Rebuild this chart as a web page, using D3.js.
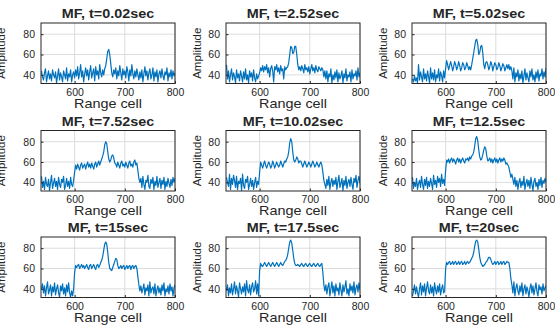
<!DOCTYPE html>
<html><head><meta charset="utf-8">
<script src="https://cdn.jsdelivr.net/npm/d3@7"></script>
<style>
html,body{margin:0;padding:0;background:#fff;overflow:hidden;}
svg{display:block;}
text{font-family:"Liberation Sans",Arial,Helvetica,sans-serif;fill:#262626;}
</style></head>
<body>
<svg id="chart" width="555" height="325"></svg>
<script>
// ---------- data ----------
const titles = ["MF, t=0.02sec","MF, t=2.52sec","MF, t=5.02sec","MF, t=7.52sec","MF, t=10.02sec","MF, t=12.5sec","MF, t=15sec","MF, t=17.5sec","MF, t=20sec"];
const xTicks = [600, 700, 800];
const yTicks = [40, 60, 80];
const cells = d3.range(534, 801, 2); // range cell index, 534..800

const p1 = [44,38,35,42,46,33,39,44,36,41,34,45,40,37,43,32,39,46,35,42,38,33,44,40,36,47,34,41,38,45,33,40,43,
 37,
 45,39,48,36,42,50,38,44,33,41,47,39,45,35,43,49,37,42,46,34,48,40,44,36,50,42,38,
 45,40,46,49,56,63,65,60,51,42,38,45,41,
 47,36,44,39,49,42,35,46,40,44,37,48,43,34,45,39,50,41,36,44,38,46,
 40,35,43,
 37,45,33,41,48,39,44,35,42,46,36,40,47,34,43,38,45,33,41,44,37,46,39,35,43,40,47,34,42,38,45,36,44,39,42];
const p2 = [50,36,44,33,40,46,35,42,38,32,45,37,41,34,44,39,33,43,36,46,35,40,32,44,38,42,34,45,37,33,41,36,39,
 42,
 47,44,49,43,48,45,50,42,47,38,46,49,44,33,48,45,50,43,47,41,49,44,46,36,48,45,47,
 48,52,60,68,67,61,62,68,68,60,50,45,48,
 44,49,46,42,50,45,47,43,48,41,46,50,44,47,42,49,45,43,48,46,44,47,
 45,38,44,
 36,44,33,41,38,46,32,40,35,43,37,45,33,42,36,39,44,32,41,37,46,34,40,38,43,33,45,36,41,39,44,35,47,38,42];
const p3 = [36,33,39,34,37,32,50,35,43,38,33,46,36,41,34,44,38,32,47,36,42,35,45,33,40,37,46,34,43,39,33,44,37,
 46,
 54,50,45,49,53,49,44,48,53,50,45,48,53,49,44,47,52,50,45,47,52,49,45,48,45,50,56,
 62,68,74,75,70,60,62,68,69,62,50,46,52,
 53,50,45,48,53,50,44,48,52,50,45,47,52,49,44,47,51,49,44,47,50,46,
 50,45,48,
 44,36,47,33,42,38,45,34,41,36,44,32,39,46,35,42,37,33,44,38,46,35,40,33,43,37,45,34,41,39,46,36,43,38,47];
const p4 = [46,35,41,33,45,38,36,43,32,40,47,34,39,44,36,41,33,45,38,35,43,40,46,33,37,44,36,41,34,45,38,36,42,
 50,
 57,53,58,55,52,57,59,54,56,58,53,57,60,55,58,54,59,56,53,58,60,55,58,61,57,60,63,
 66,70,77,80,78,70,63,60,62,66,67,64,59,
 58,55,60,57,54,59,61,56,58,55,60,57,54,59,61,56,58,55,60,62,57,59,
 52,44,40,
 44,35,46,38,33,42,40,47,36,34,43,39,45,33,41,37,46,35,40,44,34,42,38,45,33,41,36,44,39,35,43,37,45,40,44];
const p5 = [45,40,36,48,33,44,38,47,42,35,46,33,41,39,44,32,48,37,34,43,40,46,33,38,44,36,42,33,40,45,35,41,38,
 50,
 60,57,54,58,61,57,54,57,60,58,54,56,61,58,54,57,60,57,55,57,61,58,55,58,61,60,63,
 65,70,79,83,80,70,62,60,62,65,63,59,61,
 61,58,55,58,61,58,55,57,60,58,55,58,61,58,55,57,60,57,55,58,60,57,
 50,42,38,
 34,43,37,46,33,40,44,36,42,38,45,33,41,47,35,39,44,32,42,37,46,34,40,43,36,45,38,33,44,40,47,35,42,46,39];
const p6 = [45,34,40,36,44,33,39,42,35,46,38,33,43,37,45,34,41,36,44,39,33,47,38,42,35,46,40,44,36,48,39,43,37,
 52,
 62,60,63,59,62,64,60,63,61,58,62,64,60,63,59,62,64,61,59,63,62,64,61,65,63,66,67,
 70,76,83,85,81,72,65,62,63,67,72,75,73,
 66,61,62,64,60,63,59,62,64,60,63,59,62,64,60,63,61,64,62,58,59,57,
 55,50,45,
 48,43,38,45,36,42,33,40,44,35,41,37,46,33,39,43,36,42,34,45,38,32,41,44,36,40,33,43,37,45,35,42,39,44,40];
const p7 = [40,45,36,43,33,41,47,35,39,44,33,42,37,46,34,40,44,36,32,43,38,45,35,41,33,44,37,46,36,32,38,33,40,
 56,
 63,61,63,64,60,62,64,61,63,60,62,64,61,59,63,64,60,62,64,61,59,63,64,61,63,66,68,
 72,78,84,86,84,76,66,60,59,58,61,64,67,
 70,69,63,60,61,63,60,62,63,59,61,63,60,62,63,59,62,63,60,62,63,60,
 52,44,38,
 43,36,40,45,34,41,38,44,33,47,36,40,42,35,45,33,39,43,36,41,34,44,38,46,33,40,37,43,35,45,38,42,33,41,44];
const p8 = [38,44,33,41,36,45,34,40,47,35,43,38,32,46,40,35,42,37,45,33,48,39,36,44,34,42,46,37,40,48,35,45,33,
 58,
 65,63,62,64,66,64,62,64,66,64,62,64,66,64,62,64,66,64,62,64,66,64,63,65,67,68,70,
 74,80,86,88,85,78,70,65,63,63,64,63,62,
 64,65,63,62,64,65,63,62,64,65,63,62,64,65,63,62,64,65,63,62,64,65,
 56,44,38,
 44,35,42,46,33,40,47,36,43,33,45,38,41,34,46,39,33,44,37,42,48,35,40,33,45,38,43,36,47,34,41,44,37,46,39];
const p9 = [33,38,44,35,42,36,32,40,46,34,43,37,45,33,41,47,38,35,44,36,42,33,46,39,35,43,37,45,34,40,44,36,38,
 60,
 66,64,66,67,64,65,67,64,66,67,64,65,67,64,66,67,64,65,67,64,66,67,65,66,68,70,72,
 76,82,87,88,86,79,71,66,64,62,63,64,66,
 67,69,71,71,69,66,64,65,67,64,66,67,64,65,67,64,66,67,64,65,67,66,
 66,60,50,
 44,36,47,33,41,45,38,34,43,37,46,33,40,44,35,42,38,32,41,45,36,43,34,40,46,37,33,44,39,42,35,45,38,41,43];
const series = [p1,p2,p3,p4,p5,p6,p7,p8,p9];

// ---------- layout ----------
const colLeft = [41, 226, 412];
const rowTop = [23, 130.5, 237];
const W = 134, H = 60.5;
const ylabOffset = [-36, -25, -25];

const svg = d3.select("#chart");
const x = d3.scaleLinear().domain([533, 800]).range([0, W]);
const y = d3.scaleLinear().domain([31.5, 91]).range([H, 0]);
const line = d3.line().x((d,i)=>x(cells[i])).y(d=>y(d));

series.forEach((vals, k) => {
  const r = Math.floor(k/3), c = k%3;
  const g = svg.append("g").attr("transform", `translate(${colLeft[c]},${rowTop[r]})`);
  const cid = "clip"+k;
  g.append("clipPath").attr("id", cid).append("rect").attr("width", W).attr("height", H);
  // grid
  g.append("g").selectAll("line").data(xTicks).join("line")
    .attr("x1", d=>x(d)).attr("x2", d=>x(d)).attr("y1", 0).attr("y2", H)
    .attr("stroke", "#dcdcdc").attr("stroke-width", 1);
  g.append("g").selectAll("line").data(yTicks).join("line")
    .attr("y1", d=>y(d)).attr("y2", d=>y(d)).attr("x1", 0).attr("x2", W)
    .attr("stroke", "#dcdcdc").attr("stroke-width", 1);
  // data line
  g.append("path").datum(vals.slice(0, cells.length))
    .attr("clip-path", `url(#${cid})`)
    .attr("d", line).attr("fill", "none")
    .attr("stroke", "#0072BD").attr("stroke-width", 1.2).attr("stroke-linejoin", "round");
  // axes
  const ax = g.append("g").attr("transform", `translate(0,${H})`)
    .call(d3.axisBottom(x).tickValues(xTicks).tickSize(-2.5).tickPadding(5).tickFormat(d3.format("d")));
  const ay = g.append("g")
    .call(d3.axisLeft(y).tickValues(yTicks).tickSize(-2.5).tickPadding(6).tickFormat(d3.format("d")));
  [ax, ay].forEach(a => {
    a.select(".domain").remove();
    a.selectAll(".tick line").attr("stroke", "#262626");
    a.selectAll("text").attr("font-size", 10.5).attr("fill", "#262626")
      .attr("font-family", "Liberation Sans, Arial, sans-serif");
  });
  // box
  g.append("rect").attr("width", W).attr("height", H)
    .attr("fill", "none").attr("stroke", "#262626").attr("stroke-width", 1);
  // title
  g.append("text").attr("transform", `translate(${W/2},-5) scale(1.15,1)`)
    .attr("text-anchor", "middle").attr("font-weight", "bold").attr("font-size", 12.5)
    .attr("fill", "#000").text(titles[k]);
  // x label
  g.append("text").attr("transform", `translate(${W/2},${H+24}) scale(1.2,1)`)
    .attr("text-anchor", "middle").attr("font-size", 12).text("Range cell");
  // y label
  g.append("text").attr("transform", `translate(${ylabOffset[c]},${H/2}) rotate(-90)`)
    .attr("text-anchor", "middle").attr("font-size", 11.5).text("Amplitude");
});
</script>
</body></html>
